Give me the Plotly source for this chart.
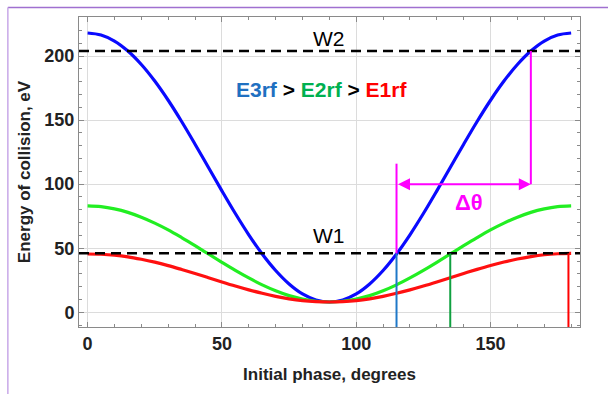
import plotly.graph_objects as go

# Initial phase (degrees) and collision energy (eV) for three RF amplitudes
phase = [0, 5, 10, 15, 20, 25, 30, 35, 40, 45, 50, 55, 60, 65, 70, 75, 80, 85, 90,
         95, 100, 105, 110, 115, 120, 125, 130, 135, 140, 145, 150, 155, 160, 165, 170, 175, 180]
e3rf = [218.0, 216.4, 211.7, 203.9, 193.4, 180.5, 165.5, 148.9, 131.2, 113.0, 94.8, 77.1, 60.5,
        45.5, 32.6, 22.1, 14.3, 9.6, 8.0,
        9.6, 14.3, 22.1, 32.6, 45.5, 60.5, 77.1, 94.8, 113.0, 131.2, 148.9, 165.5, 180.5, 193.4,
        203.9, 211.7, 216.4, 218.0]
e2rf = [83.0, 82.4, 80.7, 78.0, 74.2, 69.6, 64.3, 58.3, 52.0, 45.5, 39.0, 32.7, 26.8,
        21.4, 16.8, 13.0, 10.3, 8.6, 8.0,
        8.6, 10.3, 13.0, 16.8, 21.4, 26.8, 32.7, 39.0, 45.5, 52.0, 58.3, 64.3, 69.6, 74.2,
        78.0, 80.7, 82.4, 83.0]
e1rf = [45.5, 45.3, 44.6, 43.3, 41.4, 39.1, 36.4, 33.4, 30.3, 27.0, 23.7, 20.5, 17.5,
        14.8, 12.4, 10.5, 9.1, 8.3, 8.0,
        8.3, 9.1, 10.5, 12.4, 14.8, 17.5, 20.5, 23.7, 27.0, 30.3, 33.5, 36.5, 39.2, 41.6,
        43.5, 44.9, 45.7, 46.0]

# Threshold energies and label heights
w_levels = [46, 204]
w_names = ["W1", "W2"]
w_label_y = [60, 214]

# Phases where each curve reaches W1 (E3rf, E2rf, E1rf)
cross_phase = [115, 135, 179]
cross_colors = ["#1f78c8", "#10a040", "#ff0000"]

# Phase window above W2 for E3rf
dtheta_start, dtheta_end, dtheta_level = 115, 165, 100

x_range = [-3.2, 183.3]
y_range = [-11.5, 230.5]

FONT = "Liberation Sans, Arial, sans-serif"

fig = go.Figure()
for ys, col in [(e3rf, "#0a0aff"), (e2rf, "#22ee22"), (e1rf, "#ff1010")]:
    fig.add_trace(go.Scatter(x=phase, y=ys, mode="lines",
                             line=dict(color=col, width=3.2, shape="spline", smoothing=1.0),
                             showlegend=False, hoverinfo="skip"))

shapes = []
# dashed threshold lines
for w in w_levels:
    shapes.append(dict(type="line", xref="x", yref="y", x0=x_range[0], x1=x_range[1], y0=w, y1=w,
                       line=dict(color="black", width=2.5, dash="10px,6px"), layer="above"))
# drop lines from W1 crossings
for xp, col in zip(cross_phase, cross_colors):
    shapes.append(dict(type="line", xref="x", yref="y", x0=xp, x1=xp, y0=y_range[0], y1=w_levels[0],
                       line=dict(color=col, width=2)))
# Δθ markers
shapes.append(dict(type="line", xref="x", yref="y", x0=dtheta_start, x1=dtheta_start, y0=w_levels[0], y1=116,
                   line=dict(color="#ff00ff", width=2)))
shapes.append(dict(type="line", xref="x", yref="y", x0=dtheta_end, x1=dtheta_end, y0=dtheta_level, y1=w_levels[1],
                   line=dict(color="#ff00ff", width=2)))
# slide border
shapes.append(dict(type="line", xref="paper", yref="paper", x0=-0.142, x1=1.06, y0=1.031, y1=1.031,
                   line=dict(color="#a070d0", width=1.5)))
shapes.append(dict(type="line", xref="paper", yref="paper", x0=-0.142, x1=-0.142, y0=1.031, y1=-0.22,
                   line=dict(color="#c8a8e8", width=1.5)))

annotations = [
    dict(x=dtheta_end, y=dtheta_level, ax=dtheta_start, ay=dtheta_level, xref="x", yref="y",
         axref="x", ayref="y", text="", showarrow=True, arrowhead=2, arrowside="end+start",
         arrowsize=1.2, arrowwidth=2, arrowcolor="#ff00ff"),
    dict(x=142, y=86, xref="x", yref="y", text="<b>Δθ</b>", showarrow=False,
         font=dict(family=FONT, size=22, color="#ff00ff")),
    dict(x=87, y=174, xref="x", yref="y", showarrow=False,
         text='<b><span style="color:#1f70c1">E3rf</span> > <span style="color:#00b050">E2rf</span> > '
              '<span style="color:#ff0000">E1rf</span></b>',
         font=dict(family=FONT, size=21, color="black")),
]
for ly, name in zip(w_label_y, w_names):
    annotations.append(dict(x=90, y=ly, xref="x", yref="y", text=name, showarrow=False,
                            font=dict(family=FONT, size=21, color="black")))

axis_common = dict(
    showline=True, linecolor="#8a8a8a", linewidth=1, mirror="allticks",
    ticks="inside", ticklen=5, tickcolor="#8a8a8a",
    showgrid=True, gridcolor="#dcdcdc", gridwidth=1, zeroline=False,
    tickfont=dict(family=FONT, size=18, color="#222", weight="bold"),
    minor=dict(dtick=10, ticks="inside", ticklen=3, tickcolor="#8a8a8a", showgrid=False),
)

fig.update_layout(
    width=608, height=394,
    margin=dict(l=79, r=28, t=17, b=67),
    paper_bgcolor="white", plot_bgcolor="white",
    shapes=shapes, annotations=annotations,
    xaxis=dict(range=x_range, tickvals=[0, 50, 100, 150],
               title=dict(text="Initial phase, degrees",
                          font=dict(family=FONT, size=17, color="#222", weight="bold"), standoff=15),
               **axis_common),
    yaxis=dict(range=y_range, tickvals=[0, 50, 100, 150, 200],
               title=dict(text="Energy of collision, eV",
                          font=dict(family=FONT, size=17, color="#222", weight="bold"), standoff=9),
               **axis_common),
)

fig.write_html("out.html")
